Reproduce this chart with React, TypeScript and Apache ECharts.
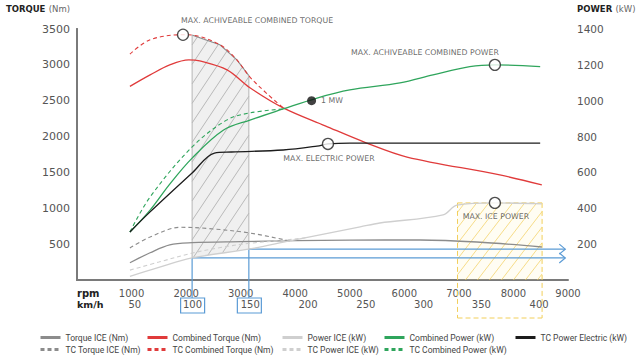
import React, { useEffect, useRef } from 'react';
import * as echarts from 'echarts';

// ---- axes ----
const RPM_MAX = 9000;
const RPM_STEP = 1000;
const KMH_MAX = 425;
const KMH_STEP = 50;
const TORQUE_MAX = 3500;
const TORQUE_STEP = 500;
const POWER_MAX = 1400;
const POWER_STEP = 200;

// ---- series data [rpm, value] ----
const torqueIce = [[970, 240], [1340, 380], [1700, 490], [2110, 520], [3000, 535], [4000, 548], [5000, 556], [6290, 558], [7330, 530], [8520, 460]];
const tcTorqueIce = [[970, 446], [1340, 600], [1900, 735], [2400, 718], [3170, 655], [3900, 544]];
const combinedTorque = [[970, 2700], [1340, 2860], [1700, 3000], [2050, 3070], [2250, 3055], [2750, 2930], [3170, 2680], [3780, 2400], [4550, 2150], [5310, 1910], [6050, 1715], [7750, 1465], [8520, 1325]];
const tcCombinedTorque = [[970, 3150], [1340, 3350], [1943, 3420], [2110, 3415], [2620, 3280], [2930, 3070], [3170, 2830], [3480, 2600], [3780, 2400]];
const powerIce = [[970, 20], [1500, 70], [2110, 123], [3170, 173], [3900, 218], [5190, 296], [5550, 318], [6710, 363], [6965, 418], [7660, 430], [8520, 425]];
const tcPowerIce = [[970, 55], [1500, 100], [2110, 150], [2700, 185], [3170, 205], [3800, 222], [4200, 236]];
const combinedPower = [[970, 268], [1340, 390], [1700, 535], [2110, 680], [2680, 835], [3170, 892], [3780, 954], [4400, 1015], [5000, 1060], [5920, 1099], [6525, 1144], [7200, 1190], [7660, 1200], [8490, 1190]];
const tcCombinedPower = [[970, 268], [1340, 463], [2110, 742], [2750, 893], [3170, 932], [3780, 954]];
const tcPowerElectric = [[970, 268], [1340, 380], [2110, 597], [2520, 708], [2830, 714], [3780, 725], [4400, 747], [4600, 759], [5000, 764], [8490, 764]];

// ---- annotations ----
const torqueMarkers = [{ name: 'MAX. ACHIVEABLE COMBINED TORQUE', value: [1943, 3420] }];
const powerMarkers = [
  { name: 'MAX. ACHIVEABLE COMBINED POWER', value: [7660, 1200] },
  { name: 'MAX. ELECTRIC POWER', value: [4600, 759] },
  { name: 'MAX. ICE POWER', value: [7660, 430] },
];
const mwMarker = [{ name: '1 MW', value: [4300, 1000] }];
const HATCH_RPM = [2110, 3150];
const ARROW_RPM = [2110, 3150];
const ARROW_END_RPM = 8950;
const ICE_ZONE_RPM = [6975, 8525];
const ICE_ZONE_TOP = 430;

const LEGEND_COLUMNS = [
  ['Torque ICE (Nm)', 'TC Torque ICE (Nm)'],
  ['Combined Torque (Nm)', 'TC Combined Torque (Nm)'],
  ['Power ICE (kW)', 'TC Power ICE (kW)'],
  ['Combined Power (kW)', 'TC Combined Power (kW)'],
  ['TC Power Electric (kW)'],
];
const LEGEND_LEFT = [39, 146, 281, 383, 514];

const FONT = 'DejaVu Sans';
const RED = '#e03b3b';
const GREEN = '#2fa55c';
const BLACK = '#1c1c1c';
const GRAY = '#8c8c8c';
const LIGHT = '#cfcfcf';
const BLUE = '#5b9bd5';
const YELLOW = '#f2cf5b';

function interp(pts: number[][], x: number) {
  if (x <= pts[0][0]) return pts[0][1];
  for (let i = 1; i < pts.length; i++) {
    if (x <= pts[i][0]) {
      const [x0, y0] = pts[i - 1];
      const [x1, y1] = pts[i];
      return y0 + ((y1 - y0) * (x - x0)) / (x1 - x0);
    }
  }
  return pts[pts.length - 1][1];
}

function lineSeries(name: string, data: number[][], color: string, yAxisIndex: number, dashed: boolean, width = 1.3) {
  return {
    name,
    type: 'line',
    data,
    yAxisIndex,
    smooth: 0.35,
    symbol: 'none',
    lineStyle: { color, width, type: dashed ? [4, 3] : 'solid' },
    itemStyle: { color },
    z: 3,
  };
}

const fmt = (step: number) => (v: number) => (v > 0 && Math.abs(v % step) < 1e-6 ? String(v) : '');

const titleRich = {
  b: { fontFamily: FONT, fontWeight: 'bold', fontSize: 8.5, fill: '#222', color: '#222' },
  n: { fontFamily: FONT, fontSize: 8.5, fill: '#666', color: '#666' },
};

export default function App() {
  const ref = useRef<HTMLDivElement>(null);
  useEffect(() => {
    if (!ref.current) return;
    const chart = echarts.init(ref.current, null, { renderer: 'svg' });

    const renderHatch = (params: any, api: any) => {
      if (params.dataIndex !== 0) return null;
      const ratio = TORQUE_MAX / POWER_MAX;
      const [r0, r1] = HATCH_RPM;
      const N = 140;
      const top: number[][] = [];
      const bot: number[][] = [];
      for (let i = 0; i <= N; i++) {
        const r = r0 + ((r1 - r0) * i) / N;
        top.push(api.coord([r, interp(tcCombinedTorque, r)]));
        bot.push(api.coord([r, interp(powerIce, r) * ratio]));
      }
      const children: any[] = [];
      children.push({ type: 'polygon', shape: { points: top.concat([...bot].reverse()) }, style: { fill: 'rgba(225,225,225,0.5)' } });
      const k = 1.5;
      const gap = 13;
      let cmin = Infinity;
      let cmax = -Infinity;
      for (let i = 0; i <= N; i++) {
        const c1 = top[i][1] + k * top[i][0];
        const c2 = bot[i][1] + k * bot[i][0];
        cmin = Math.min(cmin, c1, c2);
        cmax = Math.max(cmax, c1, c2);
      }
      for (let c = cmin + gap * k * 0.5; c < cmax; c += gap * k) {
        let first: number[] | null = null;
        let last: number[] | null = null;
        for (let i = 0; i <= N; i++) {
          const x = top[i][0];
          const y = c - k * x;
          if (y >= top[i][1] && y <= bot[i][1]) {
            if (!first) first = [x, y];
            last = [x, y];
          }
        }
        if (first && last && last[0] - first[0] > 1) {
          children.push({ type: 'line', shape: { x1: first[0], y1: first[1], x2: last[0], y2: last[1] }, style: { stroke: '#ababab', lineWidth: 0.8 } });
        }
      }
      children.push({ type: 'polyline', shape: { points: top }, style: { stroke: '#8a8a8a', lineWidth: 1.1, fill: null } });
      children.push({ type: 'line', shape: { x1: top[0][0], y1: top[0][1], x2: bot[0][0], y2: bot[0][1] }, style: { stroke: '#b5b5b5', lineWidth: 1 } });
      children.push({ type: 'line', shape: { x1: top[N][0], y1: top[N][1], x2: bot[N][0], y2: bot[N][1] }, style: { stroke: '#b5b5b5', lineWidth: 1 } });
      return { type: 'group', children };
    };

    const renderIceZone = (params: any, api: any) => {
      if (params.dataIndex !== 0) return null;
      const [r0, r1] = ICE_ZONE_RPM;
      const tl = api.coord([r0, ICE_ZONE_TOP]);
      const br = api.coord([r1, 0]);
      const x0 = tl[0];
      const x1 = br[0];
      const y0 = tl[1];
      const ya = br[1];
      const y1 = ya + 38;
      const children: any[] = [];
      children.push({ type: 'rect', shape: { x: x0, y: y0, width: x1 - x0, height: ya - y0 }, style: { fill: 'rgba(255,236,160,0.12)' } });
      const k = 1.3;
      const gap = 12;
      for (let c = y0 + k * x0 + gap * k * 0.6; c < ya + k * x1; c += gap * k) {
        const xs = Math.max(x0, (c - ya) / k);
        const xe = Math.min(x1, (c - y0) / k);
        if (xe > xs + 1) {
          children.push({ type: 'line', shape: { x1: xs, y1: c - k * xs, x2: xe, y2: c - k * xe }, style: { stroke: YELLOW, lineWidth: 1, opacity: 0.7 } });
        }
      }
      const dash = { stroke: YELLOW, lineWidth: 1, lineDash: [5, 3] };
      children.push({ type: 'line', shape: { x1: x0, y1: y0, x2: x0, y2: y1 }, style: dash });
      children.push({ type: 'line', shape: { x1: x1, y1: y0, x2: x1, y2: y1 }, style: dash });
      children.push({ type: 'line', shape: { x1: x0, y1: y0, x2: x1, y2: y0 }, style: dash });
      children.push({ type: 'line', shape: { x1: x0, y1: y1, x2: x1, y2: y1 }, style: dash });
      return { type: 'group', children };
    };

    const renderArrows = (params: any, api: any) => {
      if (params.dataIndex !== 0) return null;
      const children: any[] = [];
      const st = { stroke: BLUE, lineWidth: 1.2, fill: null };
      ARROW_RPM.forEach((r) => {
        const p = api.coord([r, interp(powerIce, r)]);
        const endX = api.coord([ARROW_END_RPM, 0])[0];
        const axisY = api.coord([r, 0])[1];
        children.push({ type: 'line', shape: { x1: p[0], y1: p[1], x2: endX, y2: p[1] }, style: st });
        children.push({ type: 'polyline', shape: { points: [[endX - 6, p[1] - 5], [endX, p[1]], [endX - 6, p[1] + 5]] }, style: st });
        children.push({ type: 'line', shape: { x1: p[0], y1: p[1], x2: p[0], y2: axisY + 18 }, style: st });
        children.push({ type: 'rect', shape: { x: p[0] - 11.5, y: axisY + 18, width: 24, height: 15 }, style: st });
      });
      return { type: 'group', children };
    };

    const markerLabel = (position: string, distance: number, offset: number[]) => ({
      show: true,
      position,
      distance,
      offset,
      formatter: '{b}',
      fontFamily: FONT,
      fontSize: 7.8,
      color: '#444',
    });

    const option: any = {
      animation: false,
      backgroundColor: '#ffffff',
      textStyle: { fontFamily: FONT },
      grid: { left: 77, right: 73, top: 29, bottom: 80, containLabel: false },
      graphic: [
        { type: 'text', x: 70, y: 9, style: { text: '{b|TORQUE} {n|(Nm)}', rich: titleRich, align: 'right', verticalAlign: 'middle' } },
        { type: 'text', x: 577, y: 9, style: { text: '{b|POWER} {n|(kW)}', rich: titleRich, align: 'left', verticalAlign: 'middle' } },
      ],
      legend: LEGEND_COLUMNS.map((d, i) => ({
        data: d,
        orient: 'vertical',
        left: LEGEND_LEFT[i],
        top: 333,
        padding: 0,
        itemWidth: 20,
        itemHeight: 10,
        itemGap: 3,
        selectedMode: false,
        lineStyle: { width: 3 },
        itemStyle: { opacity: 0 },
        textStyle: { fontFamily: 'Roboto', fontSize: 8.5, color: '#444' },
      })),
      xAxis: [
        {
          type: 'value',
          min: 0,
          max: RPM_MAX,
          interval: RPM_STEP,
          position: 'bottom',
          name: 'rpm',
          nameLocation: 'start',
          nameGap: 0,
          nameTextStyle: { align: 'left', verticalAlign: 'top', padding: [8, 0, 0, 0], fontWeight: 'bold', fontSize: 10, color: '#222' },
          axisLine: { show: true, lineStyle: { color: '#7a7a7a', width: 2 } },
          axisTick: { show: false },
          splitLine: { show: false },
          axisLabel: { margin: 8, fontSize: 10, color: '#555', formatter: fmt(RPM_STEP), showMaxLabel: true },
        },
        {
          type: 'value',
          min: 0,
          max: KMH_MAX,
          interval: KMH_STEP,
          position: 'bottom',
          name: 'km/h',
          nameLocation: 'start',
          nameGap: 0,
          nameTextStyle: { align: 'left', verticalAlign: 'top', padding: [19, 0, 0, 0], fontWeight: 'bold', fontSize: 9.5, color: '#222' },
          axisLine: { show: false },
          axisTick: { show: false },
          splitLine: { show: false },
          axisLabel: { margin: 19, fontSize: 10, color: '#555', formatter: fmt(KMH_STEP) },
        },
      ],
      yAxis: [
        {
          type: 'value',
          min: 0,
          max: TORQUE_MAX,
          interval: TORQUE_STEP,
          position: 'left',
          axisLine: { show: true, lineStyle: { color: '#7a7a7a', width: 2 } },
          axisTick: { show: false },
          splitLine: { show: false },
          axisLabel: { margin: 7, fontSize: 11, color: '#555', formatter: fmt(TORQUE_STEP) },
        },
        {
          type: 'value',
          min: 0,
          max: POWER_MAX,
          interval: POWER_STEP,
          position: 'right',
          axisLine: { show: true, lineStyle: { color: '#7a7a7a', width: 2 } },
          axisTick: { show: false },
          splitLine: { show: false },
          axisLabel: { margin: 9, fontSize: 10.5, color: '#555', formatter: fmt(POWER_STEP) },
        },
      ],
      series: [
        { type: 'custom', name: 'hatch', yAxisIndex: 0, renderItem: renderHatch, data: [[HATCH_RPM[0], 0]], silent: true, z: 1 },
        { type: 'custom', name: 'iceZone', yAxisIndex: 1, renderItem: renderIceZone, data: [[ICE_ZONE_RPM[0], 0]], silent: true, z: 1, clip: false },
        { type: 'custom', name: 'arrows', yAxisIndex: 1, renderItem: renderArrows, data: [[ARROW_RPM[0], 0]], silent: true, z: 2, clip: false },
        lineSeries('Torque ICE (Nm)', torqueIce, GRAY, 0, false),
        lineSeries('TC Torque ICE (Nm)', tcTorqueIce, GRAY, 0, true, 1.1),
        lineSeries('Power ICE (kW)', powerIce, LIGHT, 1, false),
        lineSeries('TC Power ICE (kW)', tcPowerIce, LIGHT, 1, true, 1.1),
        lineSeries('Combined Torque (Nm)', combinedTorque, RED, 0, false),
        lineSeries('TC Combined Torque (Nm)', tcCombinedTorque, RED, 0, true, 1.1),
        lineSeries('Combined Power (kW)', combinedPower, GREEN, 1, false),
        lineSeries('TC Combined Power (kW)', tcCombinedPower, GREEN, 1, true, 1.1),
        lineSeries('TC Power Electric (kW)', tcPowerElectric, BLACK, 1, false),
        {
          type: 'scatter',
          name: 'torqueMarkers',
          yAxisIndex: 0,
          symbol: 'circle',
          symbolSize: 11,
          itemStyle: { color: '#fff', borderColor: '#222', borderWidth: 1.3 },
          label: markerLabel('top', 4, [74, 0]),
          data: torqueMarkers,
          z: 6,
        },
        {
          type: 'scatter',
          name: 'powerMarkers',
          yAxisIndex: 1,
          symbol: 'circle',
          symbolSize: 11,
          itemStyle: { color: '#fff', borderColor: '#222', borderWidth: 1.3 },
          data: [
            { ...powerMarkers[0], label: markerLabel('top', 2, [-70, 0]) },
            { ...powerMarkers[1], label: markerLabel('bottom', 4, [1, 0]) },
            { ...powerMarkers[2], label: markerLabel('bottom', 3, [1, 0]) },
          ],
          z: 6,
        },
        {
          type: 'scatter',
          name: 'mw',
          yAxisIndex: 1,
          symbol: 'circle',
          symbolSize: 9,
          itemStyle: { color: '#111' },
          label: markerLabel('right', 5, [0, 0]),
          data: mwMarker,
          z: 6,
        },
      ],
    };
    chart.setOption(option);
    return () => chart.dispose();
  }, []);
  return <div ref={ref} style={{ position: 'fixed', left: 0, top: 0, width: 641, height: 360, background: '#fff' }} />;
}
